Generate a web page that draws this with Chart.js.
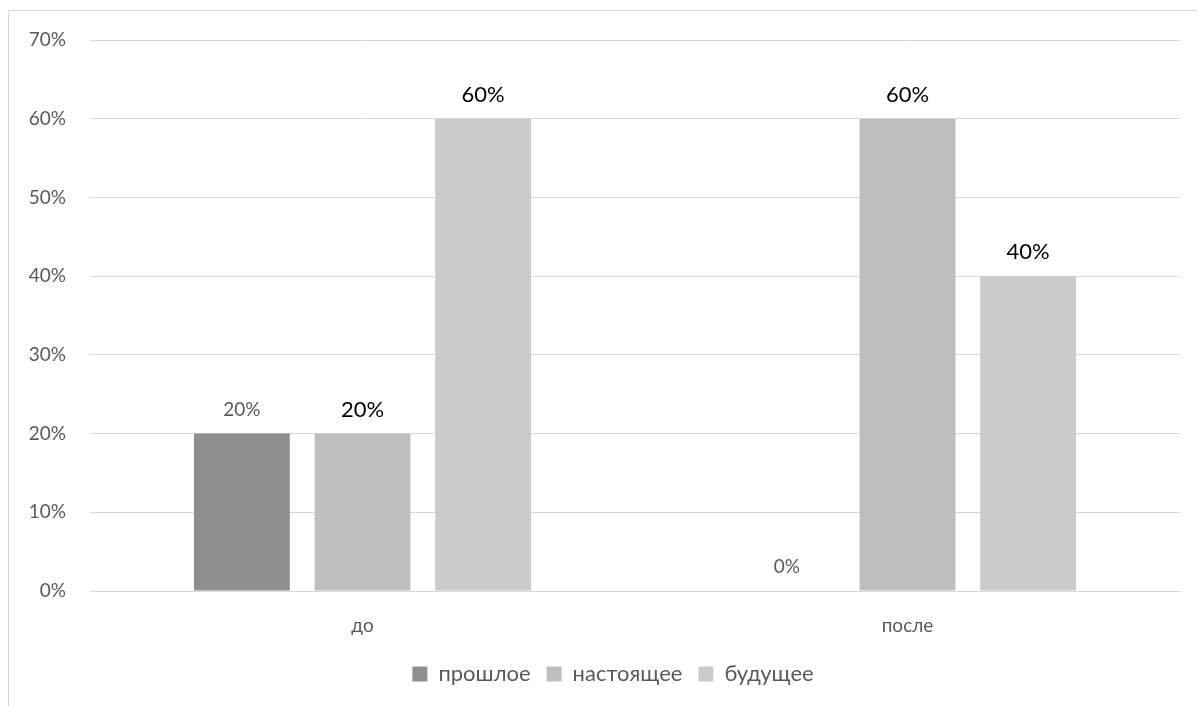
<!DOCTYPE html>
<html>
<head>
<meta charset="utf-8">
<script src="https://cdn.jsdelivr.net/npm/chart.js@4"></script>
<style>
  html, body { margin: 0; padding: 0; background: #fff; overflow: hidden; }
  #wrap { position: relative; width: 1197px; height: 706px; }
  #frame {
    position: absolute; left: 8px; top: 10px; width: 1300px; height: 800px;
    border-left: 1px solid #d9d9d9; border-top: 1px solid #d9d9d9;
  }
  canvas { position: absolute; left: 0; top: 0; }
</style>
</head>
<body>
<div id="wrap">
  <div id="frame"></div>
  <canvas id="chart" width="1197" height="706"></canvas>
</div>
<script>
  const categories = ['до', 'после'];
  const seriesNames = ['прошлое', 'настоящее', 'будущее'];
  const past = [20, 0];
  const present = [20, 60];
  const future = [60, 40];
  const yTicks = [0, 10, 20, 30, 40, 50, 60, 70];

  const colors = ['#8f8f8f', '#bfbfbf', '#cbcbcb'];
  const fontFamily = 'Lato, "Open Sans", sans-serif';
  const labelStyles = [
    { color: '#595959', size: 19 },
    { color: '#000000', size: 22 },
    { color: '#000000', size: 22 }
  ];

  // draws the value above each bar
  const valueLabels = {
    id: 'valueLabels',
    afterDatasetsDraw(chart) {
      const ctx = chart.ctx;
      chart.data.datasets.forEach((ds, i) => {
        const meta = chart.getDatasetMeta(i);
        const st = labelStyles[i];
        ctx.save();
        ctx.font = st.size + 'px ' + fontFamily;
        ctx.fillStyle = st.color;
        ctx.textAlign = 'center';
        ctx.textBaseline = 'middle';
        meta.data.forEach((bar, j) => {
          ctx.fillText(ds.data[j] + '%', bar.x, bar.y - 24);
        });
        ctx.restore();
      });
    }
  };

  // legend in the original sits a bit right of the canvas centre
  const legendShift = {
    id: 'legendShift',
    afterLayout(chart) {
      chart.legend.left += 23;
      chart.legend.right += 23;
    }
  };

  const ctx = document.getElementById('chart').getContext('2d');
  new Chart(ctx, {
    type: 'bar',
    data: {
      labels: categories,
      datasets: [past, present, future].map((d, i) => ({
        label: seriesNames[i],
        data: d,
        backgroundColor: colors[i],
        borderWidth: 0,
        categoryPercentage: 0.664,
        barPercentage: 0.795
      }))
    },
    options: {
      responsive: false,
      animation: false,
      layout: { padding: { top: 40, right: 17, left: 0, bottom: 11 } },
      plugins: {
        tooltip: { enabled: false },
        legend: {
          position: 'bottom',
          labels: {
            boxWidth: 15,
            boxHeight: 15,
            padding: 16,
            color: '#595959',
            font: { family: fontFamily, size: 22 }
          }
        }
      },
      scales: {
        x: {
          grid: { display: false },
          border: { color: '#d9d9d9' },
          ticks: {
            color: '#595959',
            padding: 15,
            font: { family: fontFamily, size: 19 }
          },
          afterFit(scale) { scale.height = 56; }
        },
        y: {
          min: 0,
          max: 70,
          afterBuildTicks(scale) { scale.ticks = yTicks.map(v => ({ value: v })); },
          grid: { color: '#d9d9d9', drawTicks: false },
          border: { display: false },
          ticks: {
            color: '#595959',
            padding: 24,
            font: { family: fontFamily, size: 19 },
            callback: v => v + '%'
          },
          afterFit(scale) { scale.width = 90; }
        }
      }
    },
    plugins: [valueLabels, legendShift]
  });
</script>
</body>
</html>
